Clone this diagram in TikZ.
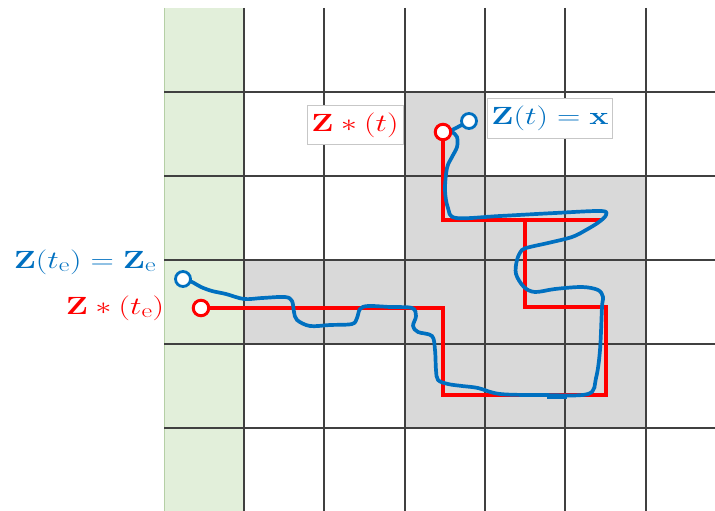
\documentclass[tikz,border=0pt]{standalone}
\usepackage{amsmath}
\usepackage{graphicx}
\definecolor{zblue}{HTML}{0070C0}
\definecolor{zred}{HTML}{FF0000}
\definecolor{cellgray}{HTML}{D9D9D9}
\definecolor{colgreen}{HTML}{E2EFDA}
\definecolor{colgreenedge}{HTML}{B5CFA5}
\newcommand{\widelbl}[1]{\scalebox{1.3}[1]{#1}}
\newcommand{\subE}{_{\mbox{\fontsize{20}{22}\selectfont e}}}
\tikzset{
  gridline/.style={draw=black!75, line width=1.3pt},
  redpath/.style={draw=zred, line width=3.7pt, line join=miter},
  bluepath/.style={draw=zblue, line width=3.7pt, line cap=round, line join=round},
  redmark/.style={circle, draw=zred, fill=white, line width=3pt, minimum size=15.5pt, inner sep=0pt},
  bluemark/.style={circle, draw=zblue, fill=white, line width=2.8pt, minimum size=15pt, inner sep=0pt},
  lbl/.style={font=\fontsize{25.5}{30}\selectfont, inner sep=2pt},
  boxlbl/.style={lbl, fill=white, draw=black!22, line width=0.6pt}
}
\begin{document}
\begin{tikzpicture}[x=1pt,y=-1pt]
\useasboundingbox (0,0) rectangle (715,511);
% green column
\fill[colgreen] (164,8) rectangle (244,511);
\draw[colgreenedge, line width=0.8pt] (164,8) -- (164,511);
% gray cells
\fill[cellgray] (405,92) rectangle (485,176);
\fill[cellgray] (405,176) rectangle (646,260);
\fill[cellgray] (244,260) rectangle (646,344);
\fill[cellgray] (405,344) rectangle (646,428);
% grid
\foreach \gx in {244,324,405,485,565,646} \draw[gridline] (\gx,8) -- (\gx,511);
\foreach \gy in {92,176,260,344,428} \draw[gridline] (164,\gy) -- (715,\gy);
% anchor points of the markers
\coordinate (rsc) at (201,308);
\coordinate (rec) at (443,132);
\coordinate (bsc) at (183,279);
\coordinate (bec) at (469,121);
% red path
\draw[redpath] (rsc) -- (443,308) -- (443,395) -- (606,395) -- (606,307) -- (525,307) -- (525,220) -- (601,220);
\draw[redpath] (rec) -- (443,220) -- (525,220);
% blue path
\draw[bluepath] plot[smooth, tension=0.55] coordinates {
 (bsc) (192,282) (201,287) (212,291) (226,294) (244,299) (262,298) (285,297) (292,301)
 (294,312) (297,320) (310,326) (330,325) (352,324) (357,318) (360,309) (368,306)
 (390,307) (412,308) (416,316) (413,326) (418,332) (432,336) (435,350) (436,370)
 (438,380) (448,384) (462,386) (478,388) (500,394) (542,395) (588,394) (596,378)
 (600,350) (602,307) (603,297) (598,290) (582,287) (555,289) (535,292) (524,287)
 (516,274) (517,260) (522,250) (530,247) (548,243) (572,237) (586,230) (599,222)
 (606,215) (601,211) (555,213) (500,216) (456,218) (448,208) (445,190) (447,168)
 (452,157) (457,147) (457,137) (452,132) (448,132) (456,128) (bec)};
\draw[zblue, line width=5pt] (547,396) -- (567,396);
% markers
\node[redmark] (rs) at (rsc) {};
\node[redmark] (re) at (rec) {};
\node[bluemark] (bs) at (bsc) {};
\node[bluemark] (be) at (bec) {};
% labels
\node[boxlbl, text=zred, minimum width=96pt, minimum height=39pt] (lzs) at (355,125) {\widelbl{$\mathbf{Z}\ast(t)$}};
\node[boxlbl, text=zblue, minimum width=125pt, minimum height=40pt] (lz) at (550,118) {\widelbl{$\mathbf{Z}(t)=\mathbf{x}$}};
\node[lbl, text=zblue] (lze) at (85,262) {\widelbl{$\mathbf{Z}(t\subE)=\mathbf{Z}\subE$}};
\node[lbl, text=zred] (lzse) at (115,308) {\widelbl{$\mathbf{Z}\ast(t\subE)$}};
\end{tikzpicture}
\end{document}
